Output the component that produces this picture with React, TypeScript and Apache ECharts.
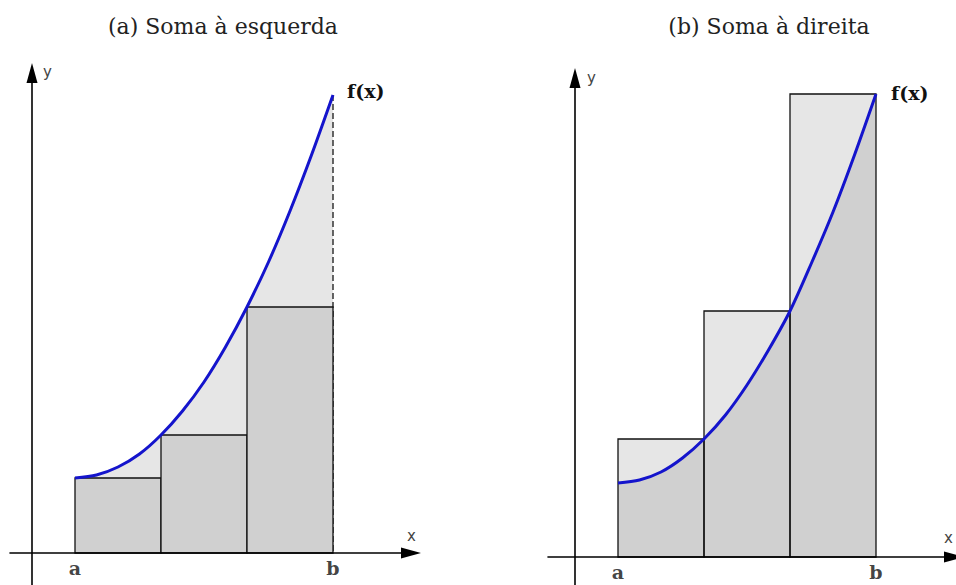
import React, { useEffect, useRef } from "react";
import * as echarts from "echarts";

// ---- data ----
const A = 0.5; // position of "a" on the x axis
const B = 3.5; // position of "b" on the x axis
const STEP = 1; // subinterval width
const endpointLabels = ["a", "b"];
const titles = ["(a) Soma à esquerda", "(b) Soma à direita"];
const curveLabel = "f(x)";

const curveX = [0.5, 0.75, 1, 1.25, 1.5, 1.75, 2, 2.25, 2.5, 2.75, 3, 3.25, 3.5];
const leftCurveY = [0.75, 0.78, 0.86, 0.99, 1.18, 1.42, 1.71, 2.06, 2.46, 2.91, 3.42, 3.98, 4.58];
const rightCurveY = [0.74, 0.77, 0.85, 0.99, 1.18, 1.42, 1.72, 2.07, 2.46, 2.94, 3.45, 4.02, 4.63];

const leftRectStarts = [0.5, 1.5, 2.5];
const leftRectHeights = [0.75, 1.18, 2.46];
const rightRectStarts = [0.5, 1.5, 2.5];
const rightRectHeights = [1.18, 2.46, 4.63];

const BLUE = "#1414cc";
const DARK = "#d0d0d0";
const LIGHT = "#e6e6e6";
const SERIF = "'DejaVu Serif', 'Liberation Serif', serif";
const SANS = "'DejaVu Sans', sans-serif";
const SMOOTH = 0.3;

function rectRender(fill: string, stroke: string, lineWidth: number) {
  return (_params: any, api: any) => {
    const x0 = api.value(0);
    const x1 = api.value(1);
    const h = api.value(2);
    const p0 = api.coord([x0, h]);
    const p1 = api.coord([x1, 0]);
    return {
      type: "rect",
      shape: { x: p0[0], y: p0[1], width: p1[0] - p0[0], height: p1[1] - p0[1] },
      style: { fill, stroke, lineWidth },
    };
  };
}

function axisCfg(gridIndex: number, min: number, max: number) {
  return {
    type: "value",
    gridIndex,
    min,
    max,
    z: 10,
    splitLine: { show: false },
    axisTick: { show: false },
    axisLabel: { show: false },
    axisLine: {
      onZero: true,
      symbol: ["none", "triangle"],
      symbolSize: [11, 20],
      lineStyle: { color: "#000", width: 1.6 },
    },
  };
}

function endpointSeries(axisIndex: number) {
  return {
    type: "scatter",
    xAxisIndex: axisIndex,
    yAxisIndex: axisIndex,
    data: [
      { value: [A, 0], name: endpointLabels[0] },
      { value: [B, 0], name: endpointLabels[1] },
    ],
    symbol: "circle",
    symbolSize: 1,
    itemStyle: { color: "transparent" },
    label: {
      show: true,
      position: "bottom",
      distance: 5,
      formatter: (p: any) => p.name,
      fontFamily: SERIF,
      fontWeight: "bold",
      fontSize: 19,
      color: "#111",
    },
    z: 11,
    silent: true,
  };
}

export default function App() {
  const ref = useRef<HTMLDivElement>(null);

  useEffect(() => {
    if (!ref.current) return;
    const chart = echarts.init(ref.current, undefined, { renderer: "svg" });

    const leftCurve = curveX.map((x, i) => [x, leftCurveY[i]]);
    const rightCurve = curveX.map((x, i) => [x, rightCurveY[i]]);
    const leftRects = leftRectStarts.map((s, i) => [s, s + STEP, leftRectHeights[i]]);
    const rightRects = rightRectStarts.map((s, i) => [s, s + STEP, rightRectHeights[i]]);

    const textStyleTitle = { font: `22px ${SERIF}`, fill: "#222" };

    chart.setOption({
      animation: false,
      grid: [
        { left: 10, top: 73, width: 401, height: 512, containLabel: false, outerBoundsMode: "none" },
        { left: 548, top: 78, width: 406, height: 507, containLabel: false, outerBoundsMode: "none" },
      ],
      xAxis: [axisCfg(0, -22 / 86, 379 / 86), axisCfg(1, -27 / 86, 379 / 86)],
      yAxis: [axisCfg(0, -0.32, 4.8), axisCfg(1, -0.28, 4.79)],
      series: [
        // ----- left panel -----
        {
          type: "line",
          xAxisIndex: 0,
          yAxisIndex: 0,
          data: leftCurve,
          smooth: SMOOTH,
          showSymbol: false,
          lineStyle: { width: 0 },
          areaStyle: { color: LIGHT, opacity: 1 },
          z: 1,
          silent: true,
        },
        {
          type: "line",
          xAxisIndex: 0,
          yAxisIndex: 0,
          data: [
            [B, leftCurveY[leftCurveY.length - 1]],
            [B, 0],
          ],
          showSymbol: false,
          lineStyle: { color: "#333", width: 1.5, type: [6, 3] },
          z: 2,
          silent: true,
        },
        {
          type: "custom",
          xAxisIndex: 0,
          yAxisIndex: 0,
          data: leftRects,
          renderItem: rectRender(DARK, "#111", 1.3),
          z: 3,
          silent: true,
        },
        {
          type: "line",
          xAxisIndex: 0,
          yAxisIndex: 0,
          data: leftCurve,
          smooth: SMOOTH,
          showSymbol: false,
          lineStyle: { color: BLUE, width: 3 },
          z: 5,
          silent: true,
        },
        endpointSeries(0),
        // ----- right panel -----
        {
          type: "custom",
          xAxisIndex: 1,
          yAxisIndex: 1,
          data: rightRects,
          renderItem: rectRender(LIGHT, "none", 0),
          z: 1,
          silent: true,
        },
        {
          type: "line",
          xAxisIndex: 1,
          yAxisIndex: 1,
          data: rightCurve,
          smooth: SMOOTH,
          showSymbol: false,
          lineStyle: { width: 0 },
          areaStyle: { color: DARK, opacity: 1 },
          z: 2,
          silent: true,
        },
        {
          type: "custom",
          xAxisIndex: 1,
          yAxisIndex: 1,
          data: rightRects,
          renderItem: rectRender("none", "#111", 1.3),
          z: 3,
          silent: true,
        },
        {
          type: "line",
          xAxisIndex: 1,
          yAxisIndex: 1,
          data: rightCurve,
          smooth: SMOOTH,
          showSymbol: false,
          lineStyle: { color: BLUE, width: 3 },
          z: 5,
          silent: true,
        },
        endpointSeries(1),
      ],
      graphic: [
        { type: "text", x: 223, y: 26, style: { ...textStyleTitle, text: titles[0], align: "center", verticalAlign: "middle" } },
        { type: "text", x: 769, y: 26, style: { ...textStyleTitle, text: titles[1], align: "center", verticalAlign: "middle" } },
        { type: "text", x: 347, y: 91, style: { text: curveLabel, font: `bold 19px ${SERIF}`, fill: "#111", verticalAlign: "middle" } },
        { type: "text", x: 891, y: 93, style: { text: curveLabel, font: `bold 19px ${SERIF}`, fill: "#111", verticalAlign: "middle" } },
        { type: "text", x: 43, y: 72, style: { text: "y", font: `15px ${SANS}`, fill: "#444", verticalAlign: "middle" } },
        { type: "text", x: 587, y: 78, style: { text: "y", font: `15px ${SANS}`, fill: "#444", verticalAlign: "middle" } },
        { type: "text", x: 407, y: 536, style: { text: "x", font: `15px ${SANS}`, fill: "#444", verticalAlign: "middle" } },
        { type: "text", x: 944, y: 538, style: { text: "x", font: `15px ${SANS}`, fill: "#444", verticalAlign: "middle" } },
      ],
    });

    return () => chart.dispose();
  }, []);

  return (
    <div
      ref={ref}
      style={{ position: "absolute", left: 0, top: 0, width: 956, height: 585, background: "#fff" }}
    />
  );
}
